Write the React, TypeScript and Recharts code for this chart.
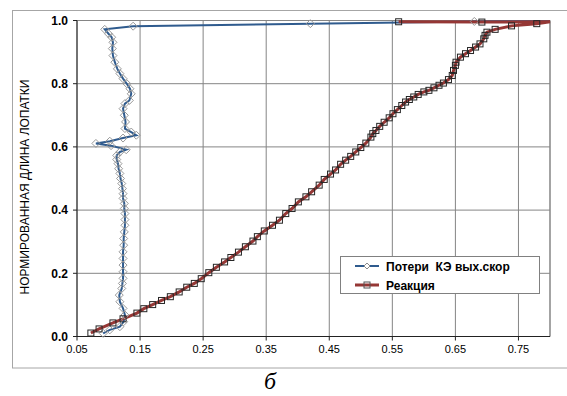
import React from 'react';
import { LineChart, Line, XAxis, YAxis, CartesianGrid, Legend, ReferenceLine } from 'recharts';

const X_TICKS = [0.05, 0.15, 0.25, 0.35, 0.45, 0.55, 0.65, 0.75];
const Y_TICKS = [0, 0.2, 0.4, 0.6, 0.8, 1.0];
const X_DOMAIN: [number, number] = [0.05, 0.8];
const Y_DOMAIN: [number, number] = [0, 1];

const SERIES_NAMES = ['Потери  КЭ вых.скор', 'Реакция'];
const Y_TITLE = 'НОРМИРОВАННАЯ ДЛИНА ЛОПАТКИ';
const CAPTION = 'б';

// Series 1: Потери КЭ вых.скор (blue, diamonds)
const lossX = [
  0.0915, 0.102, 0.118, 0.124, 0.126, 0.123, 0.118, 0.117, 0.121, 0.122,
  0.123, 0.123, 0.123, 0.123, 0.123, 0.124, 0.124, 0.125, 0.126, 0.126,
  0.126, 0.125, 0.125, 0.123, 0.123, 0.122, 0.121, 0.119, 0.118, 0.116,
  0.115, 0.113, 0.113, 0.118, 0.128, 0.104, 0.080, 0.102, 0.123, 0.144,
  0.136, 0.126, 0.127, 0.125, 0.123, 0.126, 0.133, 0.136, 0.134, 0.129,
  0.123, 0.118, 0.114, 0.110, 0.107, 0.106, 0.107, 0.105, 0.100, 0.094,
  0.139, 0.42, 0.68, 0.8,
];
const lossY = [
  0.010, 0.021, 0.031, 0.047, 0.068, 0.089, 0.110, 0.131, 0.152, 0.168,
  0.184, 0.205, 0.226, 0.247, 0.268, 0.289, 0.310, 0.331, 0.352, 0.370,
  0.389, 0.405, 0.421, 0.437, 0.452, 0.468, 0.484, 0.500, 0.516, 0.531,
  0.547, 0.560, 0.573, 0.584, 0.591, 0.604, 0.611, 0.618, 0.628, 0.637,
  0.647, 0.658, 0.679, 0.700, 0.721, 0.737, 0.747, 0.768, 0.784, 0.800,
  0.816, 0.832, 0.847, 0.868, 0.889, 0.911, 0.931, 0.947, 0.958, 0.972,
  0.982, 0.990, 0.997, 0.998,
];

// Series 2: Реакция (red, squares)
const reactionX = [
  0.072, 0.085, 0.107, 0.123, 0.145, 0.156, 0.170, 0.184, 0.198, 0.212,
  0.224, 0.236, 0.247, 0.259, 0.271, 0.284, 0.294, 0.306, 0.317, 0.329,
  0.336, 0.347, 0.360, 0.371, 0.381, 0.391, 0.401, 0.413, 0.422, 0.434,
  0.442, 0.452, 0.460, 0.468, 0.476, 0.484, 0.492, 0.500, 0.508, 0.516,
  0.519, 0.524, 0.530, 0.537, 0.545, 0.551, 0.558, 0.565, 0.571, 0.577,
  0.584, 0.591, 0.600, 0.608, 0.616, 0.624, 0.631, 0.639, 0.645, 0.647,
  0.650, 0.651, 0.658, 0.666, 0.674, 0.682, 0.689, 0.695, 0.697, 0.700,
  0.713, 0.739, 0.779, 0.8, 0.692, 0.560,
];
const reactionY = [
  0.011, 0.024, 0.043, 0.056, 0.074, 0.088, 0.101, 0.114, 0.126, 0.141,
  0.156, 0.168, 0.183, 0.202, 0.219, 0.236, 0.250, 0.267, 0.284, 0.302,
  0.316, 0.334, 0.352, 0.368, 0.389, 0.405, 0.426, 0.442, 0.458, 0.479,
  0.497, 0.514, 0.527, 0.545, 0.558, 0.570, 0.584, 0.598, 0.612, 0.631,
  0.642, 0.652, 0.665, 0.678, 0.692, 0.705, 0.718, 0.731, 0.742, 0.750,
  0.758, 0.766, 0.774, 0.779, 0.787, 0.795, 0.802, 0.813, 0.826, 0.842,
  0.858, 0.868, 0.884, 0.895, 0.905, 0.916, 0.926, 0.942, 0.953, 0.963,
  0.972, 0.983, 0.990, 0.996, 0.995, 0.996,
];

const lossData = lossX.map((x, i) => ({ x, y: lossY[i] }));
const reactionData = reactionX.map((x, i) => ({ x, y: reactionY[i] }));

const BLUE = '#2F5B8E';
const RED = '#953735';
const GRID = '#858585';
const FONT = '"Liberation Sans", Arial, sans-serif';

const diamondPath = (cx: number, cy: number, r: number) =>
  `${cx},${cy - r} ${cx + r},${cy} ${cx},${cy + r} ${cx - r},${cy}`;

const renderDiamond = (p: any) => {
  const { cx, cy, index, payload } = p;
  if (cx == null || cy == null || payload.x >= X_DOMAIN[1]) return <g key={`d${index}`} />;
  return (
    <polygon key={`d${index}`} points={diamondPath(cx, cy, 4)} fill="none" stroke="#999999" strokeWidth={1} />
  );
};

const renderSquare = (p: any) => {
  const { cx, cy, index, payload } = p;
  if (cx == null || cy == null || payload.x >= X_DOMAIN[1]) return <g key={`s${index}`} />;
  return (
    <rect key={`s${index}`} x={cx - 3} y={cy - 3} width={6} height={6} fill="none" stroke="#262626" strokeWidth={1} />
  );
};

const LegendBox = () => (
  <svg width={200} height={38} style={{ display: 'block' }}>
    <rect x={0.5} y={0.5} width={199} height={37} fill="#fff" stroke="#808080" />
    <line x1={15} x2={39} y1={10} y2={10} stroke={BLUE} strokeWidth={2} />
    <polygon points={diamondPath(27, 10, 3)} fill="#fff" stroke="#8a8a8a" />
    <text x={46} y={14.5} fontFamily={FONT} fontSize={12} fontWeight="bold" fill="#000" style={{ whiteSpace: 'pre' }}>
      {SERIES_NAMES[0]}
    </text>
    <line x1={15} x2={39} y1={29} y2={29} stroke={RED} strokeWidth={3} />
    <rect x={24} y={26} width={6} height={6} fill="none" stroke="#555" />
    <text x={46} y={33.5} fontFamily={FONT} fontSize={12} fontWeight="bold" fill="#000">
      {SERIES_NAMES[1]}
    </text>
  </svg>
);

export default function App() {
  return (
    <div style={{ position: 'relative', width: 567, height: 396, background: '#fff' }}>
      <style>{'body{margin:0;}'}</style>
      <LineChart width={567} height={396} margin={{ top: 20.5, right: 17, bottom: 34.5, left: 12 }}>
        <CartesianGrid stroke={GRID} strokeWidth={1} />
        <XAxis
          type="number"
          dataKey="x"
          domain={X_DOMAIN}
          ticks={X_TICKS}
          interval={0}
          tickFormatter={(v: number) => v.toFixed(2)}
          stroke="#222"
          tick={{ fill: '#000', fontSize: 11, fontFamily: FONT }}
          tickSize={4}
          tickMargin={5}
          height={25}
        />
        <YAxis
          type="number"
          dataKey="y"
          domain={Y_DOMAIN}
          ticks={Y_TICKS}
          interval={0}
          tickFormatter={(v: number) => v.toFixed(1)}
          stroke="#222"
          tick={{ fill: '#000', fontSize: 12, fontFamily: FONT, fontWeight: 'bold' }}
          tickSize={4}
          tickMargin={5}
          width={65}
        />
        <ReferenceLine x={X_DOMAIN[1]} stroke={GRID} />
        <Line
          data={lossData}
          dataKey="y"
          name={SERIES_NAMES[0]}
          type="linear"
          stroke={BLUE}
          strokeWidth={2}
          dot={renderDiamond}
          activeDot={false}
          isAnimationActive={false}
        />
        <Line
          data={reactionData}
          dataKey="y"
          name={SERIES_NAMES[1]}
          type="linear"
          stroke={RED}
          strokeWidth={3}
          dot={renderSquare}
          activeDot={false}
          isAnimationActive={false}
        />
        <Legend
          content={LegendBox}
          layout="vertical"
          align="center"
          verticalAlign="middle"
          wrapperStyle={{ left: 340, top: 256, width: 200, height: 38 }}
        />
      </LineChart>
      <svg
        width={567}
        height={396}
        style={{ position: 'absolute', left: 0, top: 0, pointerEvents: 'none' }}
      >
        <rect x={12.5} y={10.5} width={570} height={357.5} fill="none" stroke="#a6a6a6" />
        <text
          x={25}
          y={187}
          transform="rotate(-90, 25, 187)"
          textAnchor="middle"
          dominantBaseline="central"
          fontFamily={FONT}
          fontSize={12}
          fill="#000"
        >
          {Y_TITLE}
        </text>
        <text
          x={270}
          y={389}
          textAnchor="middle"
          fontFamily='"Liberation Serif", "Times New Roman", serif'
          fontStyle="italic"
          fontSize={24}
          fill="#000"
        >
          {CAPTION}
        </text>
      </svg>
    </div>
  );
}
